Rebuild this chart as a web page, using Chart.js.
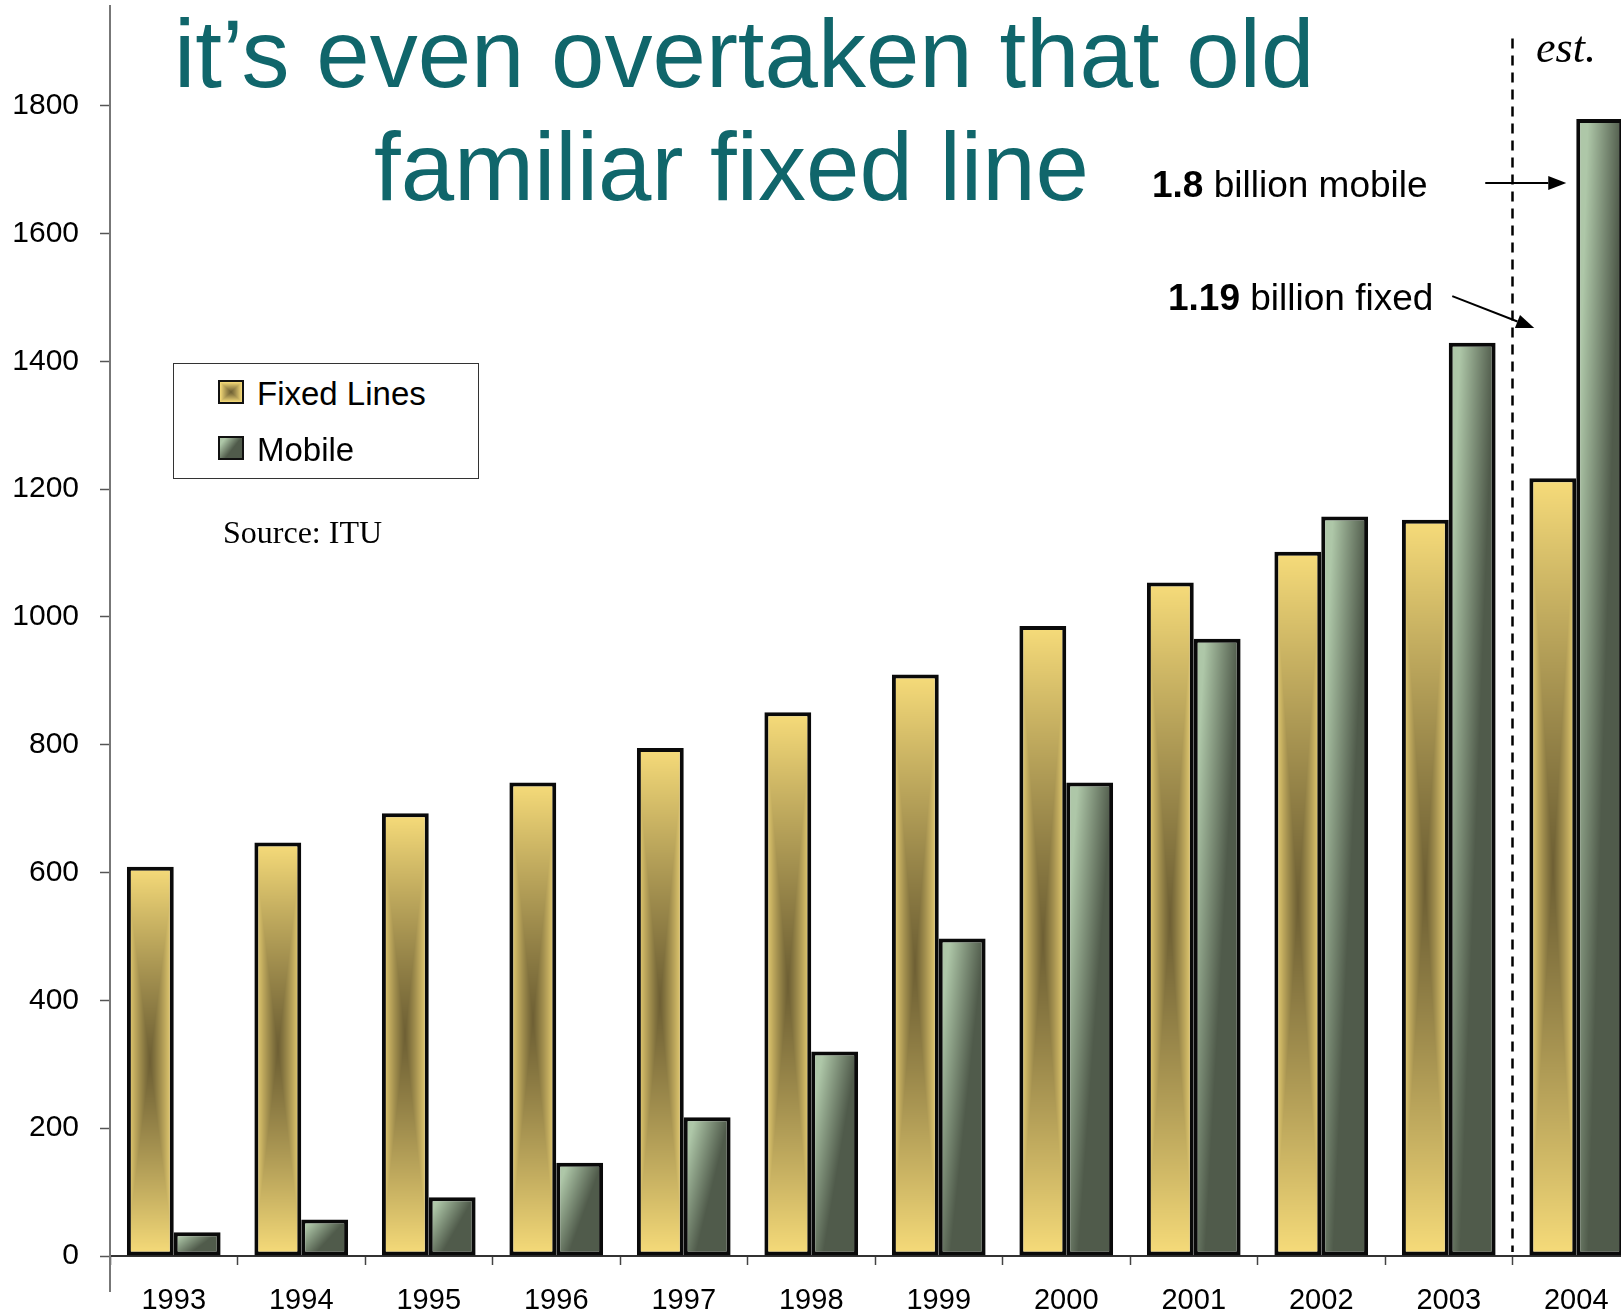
<!DOCTYPE html>
<html><head><meta charset="utf-8">
<script src="https://cdn.jsdelivr.net/npm/chart.js@4"></script>
<style>
html,body{margin:0;padding:0;background:#fff;overflow:hidden}
#stage{position:relative;width:1621px;height:1313px;overflow:hidden;background:#fff}
#c{position:absolute;left:0;top:0}
.t{position:absolute;white-space:nowrap;line-height:1;margin:0}
.sans{font-family:'Liberation Sans',Arial,Helvetica,sans-serif}
.serif{font-family:'Liberation Serif','Times New Roman',Times,serif}
.sw{position:absolute;box-sizing:border-box;border:2px solid #111}
</style></head><body>
<div id="stage">
<canvas id="c" width="1650" height="1313"></canvas>
<div class="t sans" style="left:174px;top:6px;font-size:96px;color:#10666b">it’s even overtaken that old</div>
<div class="t sans" style="left:374px;top:119px;font-size:96px;color:#10666b">familiar fixed line</div>
<div class="t serif" style="left:1536px;top:26px;font-size:44px;font-style:italic;color:#000">est.</div>
<div class="t sans" style="left:1152px;top:166px;font-size:37px;color:#000"><b>1.8</b> billion mobile</div>
<div class="t sans" style="left:1168px;top:279px;font-size:37px;color:#000"><b>1.19</b> billion fixed</div>
<div style="position:absolute;left:173px;top:363px;width:304px;height:114px;border:1px solid #333;background:#fff"></div>
<canvas id="swFixed" class="sw" width="22" height="20" style="left:218px;top:380px;width:26px;height:24px"></canvas>
<canvas id="swMobile" class="sw" width="22" height="20" style="left:218px;top:436px;width:26px;height:24px"></canvas>
<div class="t sans" style="left:257px;top:377px;font-size:33px;color:#000">Fixed Lines</div>
<div class="t sans" style="left:257px;top:433px;font-size:33px;color:#000">Mobile</div>
<div class="t serif" style="left:223px;top:516px;font-size:32px;color:#000">Source: ITU</div>
</div>
<script>
// ---- data ----
const years = ['1993','1994','1995','1996','1997','1998','1999','2000','2001','2002','2003','2004'];
const fixedLines = [609, 647, 693, 741, 795, 851, 910, 986, 1054, 1102, 1152, 1217];
const mobile = [37, 57, 92, 146, 217, 320, 497, 741, 966, 1157, 1429, 1779];
const yTicks = [0, 200, 400, 600, 800, 1000, 1200, 1400, 1600, 1800];

// ---- textures ----
const FL = [247, 220, 122], FD = [110, 96, 52];
const ML = [174, 199, 168], MD = [80, 91, 75];
function mix(a, b, f) { return [a[0]+(b[0]-a[0])*f, a[1]+(b[1]-a[1])*f, a[2]+(b[2]-a[2])*f]; }
function clamp(v, lo, hi) { return Math.max(lo, Math.min(hi, v)); }
function paintTexture(cv, kind) {
  const g = cv.getContext('2d');
  const W = cv.width, H = cv.height;
  const img = g.createImageData(W, H); const d = img.data;
  for (let j = 0; j < H; j++) for (let i = 0; i < W; i++) {
    const u = (i + 0.5) / W, v = (j + 0.5) / H;
    let col;
    if (kind === 'fixed') {
      const t = Math.max(Math.abs(u - 0.5) * 2, Math.abs(v - 0.5) * 2);
      col = mix(FD, FL, Math.pow(t, 1.15));
    } else {
      const s = clamp(1.4 * u - 0.35 + v, 0, 1);
      col = mix(ML, MD, s);
    }
    const k = (j * W + i) * 4;
    d[k] = col[0]; d[k+1] = col[1]; d[k+2] = col[2]; d[k+3] = 255;
  }
  g.putImageData(img, 0, 0);
  return cv;
}
function makeTexture(kind, w, h) {
  const c = document.createElement('canvas');
  c.width = Math.max(1, w); c.height = Math.max(1, h);
  return paintTexture(c, kind);
}
paintTexture(document.getElementById('swFixed'), 'fixed');
paintTexture(document.getElementById('swMobile'), 'mobile');

const gradFill = {
  id: 'gradFill',
  beforeDatasetDraw(chart, args) {
    const kind = chart.data.datasets[args.index].texture;
    args.meta.data.forEach(el => {
      const p = el.getProps(['x', 'y', 'base', 'width'], true);
      const left = Math.floor(p.x - p.width / 2), top = Math.floor(Math.min(p.y, p.base));
      const w = Math.ceil(p.width) + 1, h = Math.ceil(Math.abs(p.base - p.y)) + 1;
      const pat = chart.ctx.createPattern(makeTexture(kind, w, h), 'no-repeat');
      pat.setTransform(new DOMMatrix([1, 0, 0, 1, left, top]));
      el.options = Object.assign({}, el.options, { backgroundColor: pat });
    });
  }
};

function arrow(ctx, x1, y1, x2, y2) {
  const ang = Math.atan2(y2 - y1, x2 - x1), L = 18, Wd = 7;
  const bx = x2 - L * Math.cos(ang), by = y2 - L * Math.sin(ang);
  ctx.beginPath(); ctx.moveTo(x1, y1); ctx.lineTo(bx, by); ctx.stroke();
  ctx.beginPath(); ctx.moveTo(x2, y2);
  ctx.lineTo(bx + Wd * Math.sin(ang), by - Wd * Math.cos(ang));
  ctx.lineTo(bx - Wd * Math.sin(ang), by + Wd * Math.cos(ang));
  ctx.closePath(); ctx.fill();
}

const annot = {
  id: 'annot',
  afterDraw(chart) {
    const { ctx, chartArea: a, scales: { x, y } } = chart;
    const n = years.length;
    ctx.save();
    // y-axis continues below the category axis
    ctx.strokeStyle = '#777'; ctx.lineWidth = 2;
    ctx.beginPath(); ctx.moveTo(a.left, a.bottom); ctx.lineTo(a.left, a.bottom + 36); ctx.stroke();
    // estimate divider
    const divX = (x.getPixelForValue(n - 2) + x.getPixelForValue(n - 1)) / 2;
    ctx.strokeStyle = '#000'; ctx.lineWidth = 2.5; ctx.setLineDash([10, 7]);
    ctx.beginPath(); ctx.moveTo(divX, y.getPixelForValue(1905)); ctx.lineTo(divX, a.bottom - 4); ctx.stroke();
    ctx.setLineDash([]);
    // arrows
    const cx = x.getPixelForValue(n - 1);
    ctx.strokeStyle = '#000'; ctx.fillStyle = '#000'; ctx.lineWidth = 2;
    arrow(ctx, cx - 91, y.getPixelForValue(1679), cx - 10, y.getPixelForValue(1679));
    arrow(ctx, cx - 124, y.getPixelForValue(1502), cx - 42, y.getPixelForValue(1452));
    ctx.restore();
  }
};

function noPad(s) { s.paddingTop = 0; s.paddingBottom = 0; s.paddingLeft = 0; s.paddingRight = 0; }

Chart.defaults.font.family = "'Liberation Sans', Arial, Helvetica, sans-serif";
new Chart(document.getElementById('c'), {
  type: 'bar',
  data: {
    labels: years,
    datasets: [
      { label: 'Fixed Lines', data: fixedLines, texture: 'fixed', backgroundColor: '#e9cf72',
        borderColor: '#0a0a0a', borderWidth: 4, borderSkipped: false },
      { label: 'Mobile', data: mobile, texture: 'mobile', backgroundColor: '#7d8e77',
        borderColor: '#0a0a0a', borderWidth: 4, borderSkipped: false }
    ]
  },
  options: {
    responsive: false, animation: false, devicePixelRatio: 1,
    layout: { padding: { left: 0, right: 10, top: 6, bottom: 0 } },
    datasets: { bar: { categoryPercentage: 0.735, barPercentage: 1.0 } },
    plugins: { legend: { display: false }, tooltip: { enabled: false }, title: { display: false } },
    scales: {
      x: {
        type: 'category', offset: true,
        afterFit: s => { s.height = 57; noPad(s); },
        grid: { offset: true, drawOnChartArea: false, drawTicks: true, tickLength: 9, tickColor: '#444', tickWidth: 1.5 },
        border: { display: true, color: '#333', width: 2 },
        ticks: { color: '#000', font: { size: 29 }, padding: 19, maxRotation: 0, autoSkip: false }
      },
      y: {
        min: 0, max: 1956,
        afterFit: s => { s.width = 110; noPad(s); },
        afterBuildTicks: s => { s.ticks = yTicks.map(v => ({ value: v })); },
        grid: { drawOnChartArea: false, drawTicks: true, tickLength: 10, tickColor: '#555', tickWidth: 1.5 },
        border: { display: true, color: '#777', width: 2 },
        ticks: { color: '#000', font: { size: 30 }, padding: 21, stepSize: 200, includeBounds: false,
                 callback: v => String(v) }
      }
    }
  },
  plugins: [gradFill, annot]
});
</script>
</body></html>
